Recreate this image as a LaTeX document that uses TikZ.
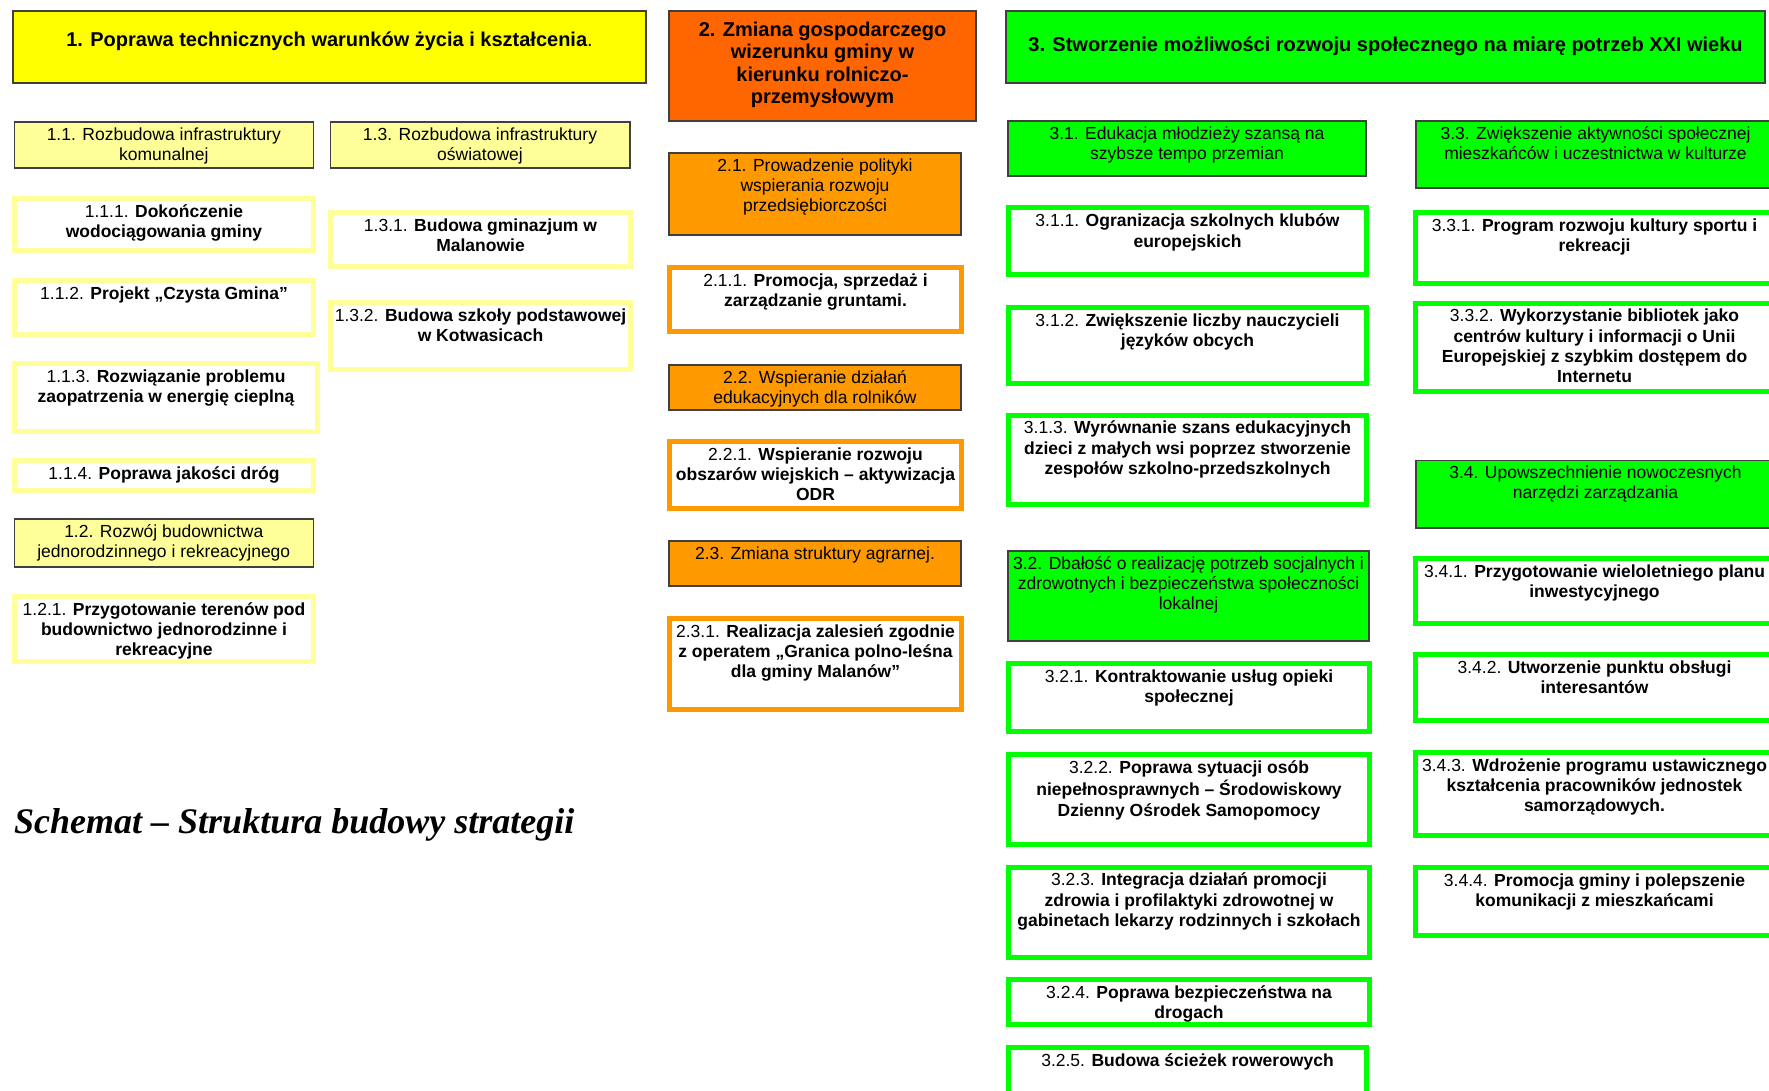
\documentclass[tikz,border=0pt]{standalone}
\usepackage{fontspec}
\setmainfont{Liberation Sans}
\newfontfamily\captfont{Liberation Serif}
\usetikzlibrary{positioning}
\definecolor{celY}{HTML}{FFFF00}
\definecolor{subY}{HTML}{FFFF99}
\definecolor{celO}{HTML}{FF6600}
\definecolor{subO}{HTML}{FF9900}
\definecolor{celG}{HTML}{00FF00}
% box text: width, height, top gap, text
\newcommand{\tbox}[4]{\parbox[t][#2pt][t]{#1pt}{\centering
  \leftskip=-2em plus 1fil\rightskip=-2em plus 1fil
  \vspace*{#3pt}\strut#4}}

\begin{document}
\begin{tikzpicture}[x=1pt, y=-1pt,
  every node/.style={font=\fontsize{17.5}{20.3}\selectfont, inner sep=0pt, anchor=north west},
  title/.style={draw=black!75, line width=1.6pt, font=\fontsize{20}{22.5}\selectfont\bfseries},
  head/.style={draw=black!75, line width=1.6pt},
  task/.style={line width=5pt, fill=white},
  capt/.style={anchor=base west, font=\captfont\fontsize{36}{40}\selectfont\bfseries\itshape}
]
  \useasboundingbox (0,0) rectangle (1769,1091);
  \clip (0,0) rectangle (1769,1091);

  % main goals
  \node[title, fill=celY] (c1) at (12,10)
    {\tbox{633.4}{72.4}{19.5}{1. Poprawa technicznych warunków życia i kształcenia\textmd{.}}};
  \node[title, fill=celO] (c2) at (668,10)
    {\tbox{307.4}{110.4}{9.5}{2. Zmiana gospodarczego\\wizerunku gminy w\\kierunku rolniczo-\\przemysłowym}};
  \node[title, fill=celG] (c3) at (1005,10)
    {\tbox{759.4}{72.4}{24.5}{3. Stworzenie możliwości rozwoju społecznego na miarę potrzeb XXI wieku}};

  % sub-goals
  \foreach \n/\c/\x/\y/\w/\h/\t in {
      11/subY/13.5/121/299/46.4/{1.1. Rozbudowa infrastruktury\\komunalnej},
      13/subY/329.5/121/299.4/46.4/{1.3. Rozbudowa infrastruktury\\oświatowej},
      12/subY/13.5/518/299/48.4/{1.2. Rozwój budownictwa\\jednorodzinnego i rekreacyjnego},
      21/subO/668/152/292.4/82.4/{2.1. Prowadzenie polityki\\wspierania rozwoju\\przedsiębiorczości},
      22/subO/668/364/292.4/45.4/{2.2. Wspieranie działań\\edukacyjnych dla rolników},
      23/subO/668/540/292.4/45.4/{2.3. Zmiana struktury agrarnej.},
      31/celG/1007/120/358.4/55/{3.1. Edukacja młodzieży szansą na\\szybsze tempo przemian},
      32/celG/1007/550/361.4/90/{3.2. Dbałość o realizację potrzeb socjalnych i\\zdrowotnych i bezpieczeństwa społeczności\\lokalnej},
      33/celG/1415/120.5/359.4/66.5/{3.3. Zwiększenie aktywności społecznej\\mieszkańców i uczestnictwa w kulturze},
      34/celG/1415/459.5/359.4/67.5/{3.4. Upowszechnienie nowoczesnych\\narzędzi zarządzania}}
    \node[head, fill=\c] (h\n) at (\x,\y) {\tbox{\w}{\h}{4}{\t}};

  % tasks
  \foreach \n/\c/\x/\y/\w/\h/\t in {
      111/subY/12/196/299/52/{1.1.1. {\bfseries Dokończenie\\wodociągowania gminy}},
      112/subY/12/278/299/54/{1.1.2. {\bfseries Projekt „Czysta Gmina”}},
      113/subY/12/361/303/68/{1.1.3. {\bfseries Rozwiązanie problemu\\zaopatrzenia w energię cieplną}},
      114/subY/12/458/299/30/{1.1.4. {\bfseries Poprawa jakości dróg}},
      121/subY/12/594/299/65/{1.2.1. {\bfseries Przygotowanie terenów pod\\budownictwo jednorodzinne i\\rekreacyjne}},
      131/subY/328/210/300/54/{1.3.1. {\bfseries Budowa gminazjum w\\Malanowie}},
      132/subY/328/300/300/67/{1.3.2. {\bfseries Budowa szkoły podstawowej\\w Kotwasicach}},
      211/subO/667/265/292/64/{2.1.1. {\bfseries Promocja, sprzedaż i\\zarządzanie gruntami.}},
      221/subO/667/439/292/67/{2.2.1. {\bfseries Wspieranie rozwoju\\obszarów wiejskich – aktywizacja\\ODR}},
      231/subO/667/616/292/91/{2.3.1. {\bfseries Realizacja zalesień zgodnie\\z operatem „Granica polno-leśna\\dla gminy Malanów”}},
      311/celG/1006/205.5/358/66.5/{3.1.1. {\bfseries Ogranizacja szkolnych klubów\\europejskich}},
      312/celG/1006/305/358/76/{3.1.2. {\bfseries Zwiększenie liczby nauczycieli\\języków obcych}},
      313/celG/1006/412.5/358/89.5/{3.1.3. {\bfseries Wyrównanie szans edukacyjnych\\dzieci z małych wsi poprzez stworzenie\\zespołów szkolno-przedszkolnych}},
      321/celG/1006/661/361/67.5/{3.2.1. {\bfseries Kontraktowanie usług opieki\\społecznej}},
      322/celG/1006/752/361/90/{3.2.2. {\bfseries Poprawa sytuacji osób\\niepełnosprawnych – Środowiskowy\\Dzienny Ośrodek Samopomocy}},
      323/celG/1006/864.5/361/90/{3.2.3. {\bfseries Integracja działań promocji\\zdrowia i profilaktyki zdrowotnej w\\gabinetach lekarzy rodzinnych i szkołach}},
      324/celG/1006/977/361/45/{3.2.4. {\bfseries Poprawa bezpieczeństwa na\\drogach}},
      325/celG/1006/1045/358/100/{3.2.5. {\bfseries Budowa ścieżek rowerowych}},
      331/celG/1413/210/358/71.5/{3.3.1. {\bfseries Program rozwoju kultury sportu i\\rekreacji}},
      332/celG/1413/300.5/358/88/{3.3.2. {\bfseries Wykorzystanie bibliotek jako\\centrów kultury i informacji o Unii\\Europejskiej z szybkim dostępem do\\Internetu}},
      341/celG/1413/556/358/65/{3.4.1. {\bfseries Przygotowanie wieloletniego planu\\inwestycyjnego}},
      342/celG/1413/652/358/66/{3.4.2. {\bfseries Utworzenie punktu obsługi\\interesantów}},
      343/celG/1413/750/358/83/{3.4.3. {\bfseries Wdrożenie programu ustawicznego\\kształcenia pracowników jednostek\\samorządowych.}},
      344/celG/1413/865/358/68/{3.4.4. {\bfseries Promocja gminy i polepszenie\\komunikacji z mieszkańcami}}}
    \node[task, draw=\c] (t\n) at (\x,\y) {\tbox{\w}{\h}{4.5}{\t}};

  \node[capt] (caption) at (14,833) {Schemat – Struktura budowy strategii};
\end{tikzpicture}
\end{document}
